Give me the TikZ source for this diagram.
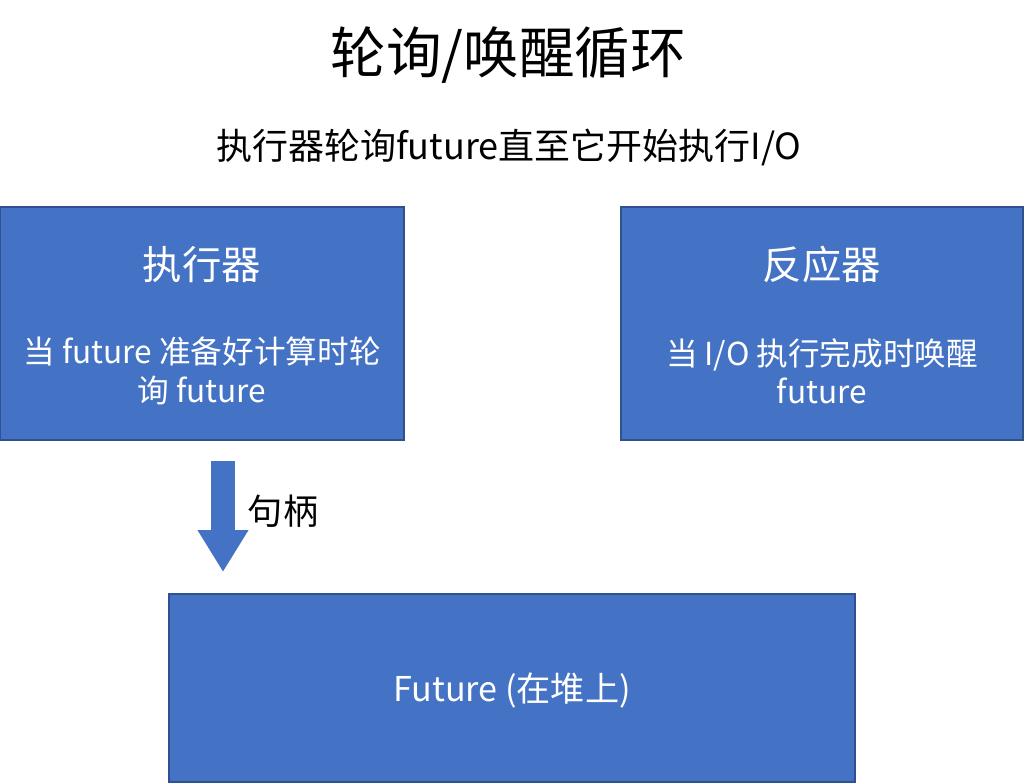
\documentclass[tikz,border=0pt]{standalone}
\usepackage{fontspec}
\setmainfont{Noto Sans CJK SC}
\usetikzlibrary{arrows.meta}
\definecolor{boxblue}{HTML}{4472C4}
\definecolor{edgeblue}{HTML}{2F528F}
\tikzset{
  panel/.style={draw=edgeblue, line width=0.05cm, fill=boxblue, inner sep=0pt},
  paneltitle/.style={text=white, font=\fontsize{28}{34}\selectfont},
  panelbody/.style={text=white, align=center, font=\fontsize{22.5}{27.3}\selectfont},
  handlearrow/.style={draw=boxblue, line width=0.6cm, -{Triangle[width=1.2cm,length=1.05cm]}}
}
\begin{document}
\begin{tikzpicture}
    \useasboundingbox (0,0) rectangle (25.6,-19.575);
    % heading
    \node[font=\fontsize{39.5}{46}\selectfont] (heading) at (12.71,-1.375) {轮询/唤醒循环};
    \node[font=\fontsize{25.6}{31}\selectfont] (subheading) at (12.72,-3.675) {执行器轮询future直至它开始执行I/O};
    % executor and reactor
    \node[panel, minimum width=10.1cm, minimum height=5.825cm] (executor) at (5.05,-8.0875) {};
    \node[paneltitle] (exectitle) at (5.05,-6.625) {执行器};
    \node[panelbody] (exectext) at (5.05,-9.275) {当 future 准备好计算时轮\\询 future};
    \node[panel, minimum width=10.05cm, minimum height=5.825cm] (reactor) at (20.55,-8.0875) {};
    \node[paneltitle] (reacttitle) at (20.55,-6.625) {反应器};
    \node[panelbody] (reacttext) at (20.55,-9.275) {当 I/O 执行完成时唤醒\\future};
    % future on the heap
    \node[panel, minimum width=17.15cm, minimum height=4.7cm] (future) at (12.8,-17.2) {};
    \node[panelbody, font=\fontsize{24.3}{29}\selectfont] (futuretext) at (12.8,-17.25) {Future (在堆上)};
    % handle
    \coordinate (handletop) at (5.575,-11.525);
    \coordinate (handlebot) at (5.575,-14.3);
    \draw[handlearrow] (handletop) -- (handlebot);
    \node[font=\fontsize{25}{30}\selectfont] (handle) at (7.075,-12.775) {句柄};
\end{tikzpicture}
\end{document}
